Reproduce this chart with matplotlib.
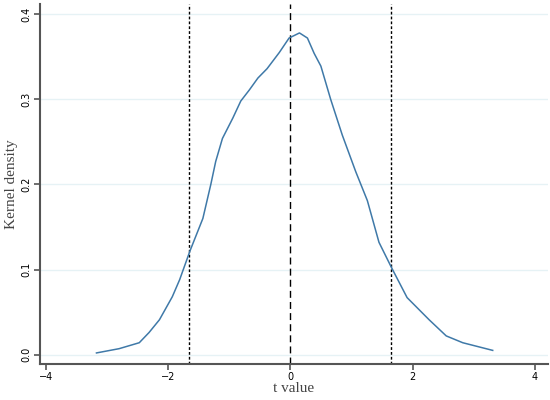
import matplotlib.pyplot as plt

# Kernel density of t values
t_vals = [-3.17, -2.80, -2.47, -2.31, -2.14, -1.93, -1.81, -1.64, -1.43, -1.30,
          -1.22, -1.11, -0.94, -0.81, -0.67, -0.53, -0.38, -0.18, -0.02, 0.15,
          0.28, 0.39, 0.50, 0.66, 0.85, 1.07, 1.26, 1.45, 1.65, 1.91, 2.27,
          2.55, 2.82, 3.31]
density = [0.002, 0.007, 0.014, 0.026, 0.041, 0.068, 0.088, 0.122, 0.160, 0.200,
           0.227, 0.254, 0.278, 0.298, 0.311, 0.325, 0.336, 0.355, 0.372, 0.378,
           0.372, 0.354, 0.339, 0.300, 0.258, 0.215, 0.181, 0.132, 0.103, 0.067, 0.041,
           0.022, 0.014, 0.005]
crit_vals = [-1.65, 1.65]
x_ticks = [-4, -2, 0, 2, 4]
y_ticks = [0.0, 0.1, 0.2, 0.3, 0.4]
y_labels = ["0.0", "0.1", "0.2", "0.3", "0.4"]

fig = plt.figure(figsize=(5.5, 4), dpi=100)
ax = fig.add_axes([0.072, 0.09, 0.925, 0.9])

for y in y_ticks:
    ax.axhline(y, color="#e6f2f5", linewidth=1.0, zorder=0)

ax.plot(t_vals, density, color="#3f79a8", linewidth=1.1, zorder=3)

for c in crit_vals:
    ax.axvline(c, color="black", linestyle=(0, (2, 1.5)), linewidth=1.0, zorder=2)
ax.axvline(0, color="black", linestyle=(0, (5, 3)), linewidth=1.0, zorder=2)

ax.set_xlim(-4.1, 4.22)
ax.set_ylim(-0.011, 0.412)
ax.set_xticks(x_ticks)
ax.set_yticks(y_ticks)
ax.set_yticklabels(y_labels, rotation=90, va="center")
ax.tick_params(axis="both", labelsize=7, length=4, width=1.2, color="#555555", pad=2)

ax.set_xlabel("t value", family="Liberation Serif", fontsize=11, color="#444444", labelpad=0)
ax.set_ylabel("Kernel density", family="Liberation Serif", fontsize=11, color="#444444", labelpad=2)

for side in ["top", "right"]:
    ax.spines[side].set_visible(False)
for side in ["left", "bottom"]:
    ax.spines[side].set_linewidth(1.5)
    ax.spines[side].set_color("#555555")

fig.savefig("out.png", dpi=100)
